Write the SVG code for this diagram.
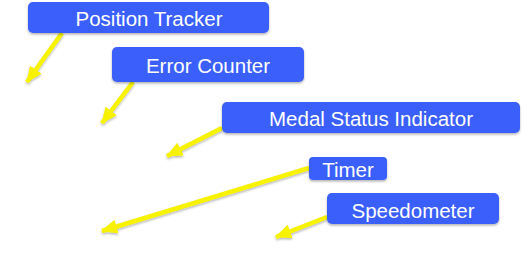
<svg xmlns="http://www.w3.org/2000/svg" width="524" height="266" viewBox="0 0 524 266">
  <defs>
    <filter id="shadow" x="-10%" y="-20%" width="120%" height="160%">
      <feDropShadow dx="0" dy="1.5" stdDeviation="1.2" flood-color="#000" flood-opacity="0.3"/>
    </filter>
    <marker id="head" viewBox="0 0 16 14" refX="15" refY="7" markerWidth="3.6" markerHeight="3.2" orient="auto" markerUnits="strokeWidth">
      <path d="M0,0 L16,7 L0,14 Z" fill="#f6f200"/>
    </marker>
    <style>
      .box { fill: #3b5ffa; filter: url(#shadow); }
      .label { fill: #ffffff; font-family: "Liberation Sans", Arial, sans-serif; font-size: 20.5px; text-anchor: middle; }
      .pointer { stroke: #f6f200; stroke-width: 4.5; fill: none; marker-end: url(#head); filter: url(#shadow); }
    </style>
  </defs>

  <!-- pointers -->
  <g id="connectors">
    <line class="pointer" x1="62" y1="33" x2="27" y2="82"/>
    <line class="pointer" x1="133" y1="82" x2="102" y2="123"/>
    <line class="pointer" x1="222" y1="128" x2="167" y2="156"/>
    <line class="pointer" x1="309" y1="168" x2="102" y2="231"/>
    <line class="pointer" x1="327" y1="217" x2="276" y2="237"/>
  </g>

  <g id="position-tracker">
    <rect class="box" x="28" y="2" width="241" height="31" rx="5"/>
    <text class="label" x="149" y="26.3">Position Tracker</text>
  </g>

  <g id="error-counter">
    <rect class="box" x="112" y="47" width="192" height="35" rx="5"/>
    <text class="label" x="208" y="73.3">Error Counter</text>
  </g>

  <g id="medal-status-indicator">
    <rect class="box" x="222" y="102" width="298" height="31" rx="5"/>
    <text class="label" x="371" y="125.7">Medal Status Indicator</text>
  </g>

  <g id="timer">
    <rect class="box" x="309" y="157" width="78" height="23" rx="4"/>
    <text class="label" x="348" y="176.6">Timer</text>
  </g>

  <g id="speedometer">
    <rect class="box" x="327" y="193" width="172" height="31" rx="5"/>
    <text class="label" x="413" y="217.7">Speedometer</text>
  </g>
</svg>
